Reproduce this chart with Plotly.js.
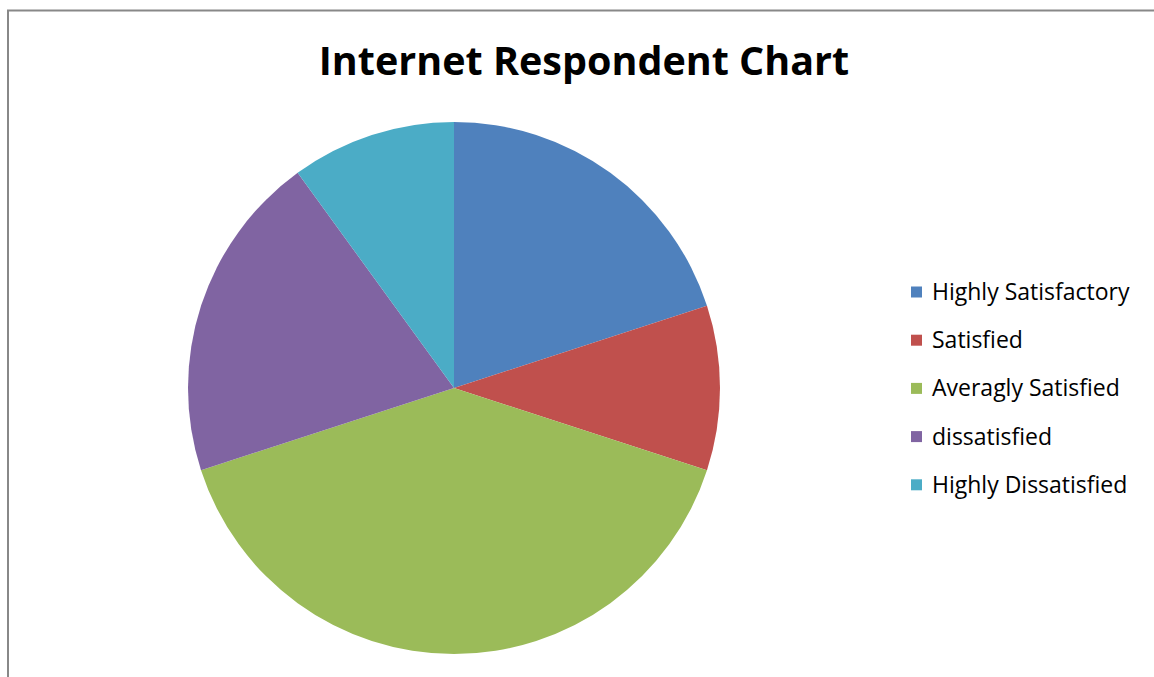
<!DOCTYPE html>
<html>
<head>
<meta charset="utf-8">
<script src="https://cdn.plot.ly/plotly-3.0.1.min.js"></script>
<style>
html,body{margin:0;padding:0;background:#fff;}
#chart{width:1154px;height:677px;}
</style>
</head>
<body>
<div id="chart"></div>
<script>
const categories = ["Highly Satisfactory", "Satisfied", "Averagly Satisfied", "dissatisfied", "Highly Dissatisfied"];
const values = [20, 10, 40, 20, 10];
const colors = ["#4F81BD", "#C0504D", "#9BBB59", "#8064A2", "#4BACC6"];
const chartTitle = "Internet Respondent Chart";

const W = 1154, H = 677;
const px = x => x / W;
const py = y => 1 - y / H;

const shapes = [
  {type: 'line', xref: 'paper', yref: 'paper', x0: px(8), x1: px(8), y0: py(10), y1: py(H + 5), line: {color: '#888888', width: 2}},
  {type: 'line', xref: 'paper', yref: 'paper', x0: px(7), x1: px(W + 5), y0: py(10.5), y1: py(10.5), line: {color: '#888888', width: 2}}
];
const annotations = [];
categories.forEach((c, i) => {
  const yc = 292 + i * 48.2;
  shapes.push({type: 'rect', xref: 'paper', yref: 'paper', x0: px(911), x1: px(922), y0: py(yc - 5.5), y1: py(yc + 5.5), fillcolor: colors[i], line: {width: 0}});
  annotations.push({xref: 'paper', yref: 'paper', x: px(930), y: py(yc - 1), xanchor: 'left', yanchor: 'middle', text: c, showarrow: false, font: {family: 'Open Sans, sans-serif', size: 23, color: '#000'}});
});

const data = [{
  type: 'pie',
  labels: categories,
  values: values,
  sort: false,
  direction: 'clockwise',
  rotation: 0,
  textinfo: 'none',
  hoverinfo: 'label+value+percent',
  marker: {colors: colors, line: {width: 0}},
  domain: {x: [px(188), px(720)], y: [py(654), py(122)]},
  automargin: false
}];

const layout = {
  width: W, height: H,
  margin: {l: 0, r: 0, t: 0, b: 0},
  paper_bgcolor: '#fff',
  showlegend: false,
  title: {text: '<b>' + chartTitle + '</b>', x: px(584), xanchor: 'center', y: py(61), yanchor: 'middle', font: {family: 'Open Sans, sans-serif', size: 39.5, color: '#000'}},
  shapes: shapes,
  annotations: annotations
};

Plotly.newPlot('chart', data, layout, {displayModeBar: false, staticPlot: true});
</script>
</body>
</html>
